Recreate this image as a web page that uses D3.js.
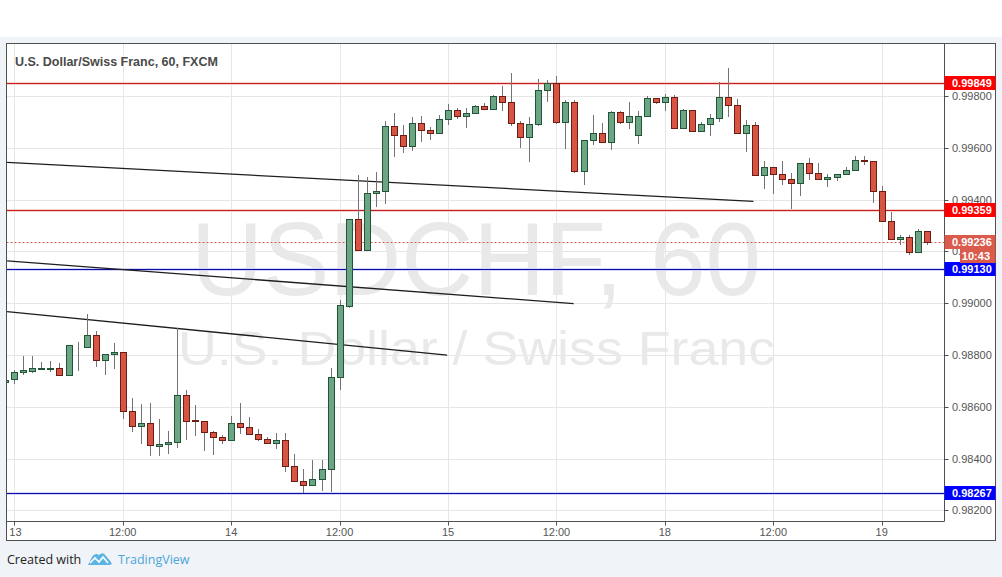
<!DOCTYPE html>
<html><head><meta charset="utf-8">
<script src="https://cdn.jsdelivr.net/npm/d3@7"></script>
<style>html,body{margin:0;padding:0;background:#f0f3f7;}svg{display:block;}</style>
</head><body>
<svg id="c" width="1002" height="577"></svg>
<script>
// ---------- DATA ----------
const title = "U.S. Dollar/Swiss Franc, 60, FXCM";
const watermarkSymbol = "USDCHF, 60";
const watermarkName = "U.S. Dollar / Swiss Franc";
const firstBarIndex = -1;
const opens  = [0.98697,0.98706,0.98733,0.98738,0.98746,0.98746,0.98748,0.98721,0.98836,0.98832,0.98876,0.98779,0.98802,0.98810,0.98583,0.98527,0.98536,0.98449,0.98455,0.98463,0.98644,0.98548,0.98544,0.98502,0.98482,0.98470,0.98537,0.98522,0.98494,0.98474,0.98459,0.98470,0.98371,0.98312,0.98297,0.98320,0.98358,0.98714,0.98990,0.99324,0.99204,0.99425,0.99431,0.99683,0.99648,0.99606,0.99694,0.99667,0.99656,0.99710,0.99744,0.99722,0.99733,0.99760,0.99748,0.99800,0.99775,0.99694,0.99640,0.99690,0.99822,0.99850,0.99700,0.99775,0.99509,0.99629,0.99656,0.99621,0.99737,0.99698,0.99648,0.99721,0.99791,0.99775,0.99796,0.99675,0.99744,0.99663,0.99690,0.99714,0.99796,0.99764,0.99656,0.99687,0.99493,0.99524,0.99497,0.99478,0.99463,0.99540,0.99501,0.99478,0.99486,0.99497,0.99513,0.99553,0.99548,0.99433,0.99316,0.99246,0.99254,0.99196,0.99277];
const highs  = [0.98709,0.98742,0.98796,0.98796,0.98773,0.98776,0.98769,0.98838,0.98849,0.98958,0.98891,0.98803,0.98845,0.98811,0.98633,0.98609,0.98613,0.98553,0.98506,0.98904,0.98665,0.98605,0.98544,0.98506,0.98491,0.98564,0.98613,0.98560,0.98513,0.98484,0.98497,0.98498,0.98416,0.98358,0.98394,0.98394,0.98748,0.99012,0.99325,0.99495,0.99486,0.99507,0.99703,0.99735,0.99687,0.99717,0.99722,0.99679,0.99726,0.99769,0.99752,0.99752,0.99764,0.99771,0.99805,0.99838,0.99888,0.99703,0.99717,0.99865,0.99861,0.99877,0.99784,0.99784,0.99629,0.99726,0.99694,0.99743,0.99742,0.99778,0.99742,0.99800,0.99791,0.99807,0.99804,0.99749,0.99744,0.99698,0.99730,0.99853,0.99908,0.99787,0.99706,0.99698,0.99549,0.99524,0.99548,0.99501,0.99540,0.99560,0.99541,0.99497,0.99497,0.99527,0.99567,0.99567,0.99548,0.99452,0.99351,0.99264,0.99262,0.99285,0.99277];
const lows   = [0.98688,0.98688,0.98721,0.98731,0.98744,0.98734,0.98721,0.98721,0.98739,0.98825,0.98755,0.98721,0.98745,0.98551,0.98504,0.98457,0.98408,0.98411,0.98417,0.98441,0.98472,0.98488,0.98430,0.98414,0.98456,0.98470,0.98496,0.98494,0.98467,0.98459,0.98438,0.98347,0.98312,0.98267,0.98297,0.98276,0.98270,0.98665,0.98980,0.99204,0.99204,0.99372,0.99383,0.99565,0.99581,0.99586,0.99623,0.99630,0.99652,0.99687,0.99710,0.99677,0.99733,0.99746,0.99746,0.99743,0.99684,0.99598,0.99546,0.99683,0.99778,0.99693,0.99594,0.99501,0.99457,0.99612,0.99621,0.99592,0.99690,0.99673,0.99614,0.99721,0.99770,0.99743,0.99675,0.99675,0.99660,0.99663,0.99646,0.99698,0.99717,0.99652,0.99582,0.99493,0.99442,0.99423,0.99457,0.99365,0.99412,0.99474,0.99474,0.99447,0.99470,0.99493,0.99509,0.99532,0.99385,0.99316,0.99246,0.99223,0.99185,0.99196,0.99224];
const closes = [0.98703,0.98733,0.98741,0.98748,0.98750,0.98750,0.98721,0.98837,0.98834,0.98876,0.98779,0.98802,0.98810,0.98583,0.98527,0.98536,0.98451,0.98455,0.98463,0.98644,0.98546,0.98545,0.98502,0.98482,0.98470,0.98537,0.98522,0.98494,0.98474,0.98459,0.98470,0.98371,0.98312,0.98297,0.98320,0.98358,0.98714,0.98991,0.99324,0.99204,0.99425,0.99434,0.99683,0.99648,0.99606,0.99694,0.99667,0.99656,0.99710,0.99744,0.99722,0.99733,0.99760,0.99748,0.99800,0.99775,0.99694,0.99640,0.99690,0.99822,0.99850,0.99700,0.99775,0.99509,0.99629,0.99656,0.99621,0.99737,0.99698,0.99721,0.99721,0.99791,0.99775,0.99796,0.99675,0.99746,0.99663,0.99692,0.99714,0.99796,0.99764,0.99656,0.99687,0.99493,0.99524,0.99497,0.99478,0.99463,0.99540,0.99501,0.99478,0.99486,0.99497,0.99513,0.99551,0.99549,0.99433,0.99316,0.99246,0.99254,0.99196,0.99277,0.99236];
const priceTicks = [0.982,0.984,0.986,0.988,0.990,0.992,0.994,0.996,0.998];
const timeTickIndex  = [0,12,24,36,48,60,72,84,96];
const timeTickLabels = ["13","12:00","14","12:00","15","12:00","18","12:00","19"];
const levelPrices = [0.99849,0.99359,0.99130,0.98267];
const levelKinds  = ["resistance","resistance","support","support"];
const trendStartIndex = [-0.8,-0.8,-0.8];
const trendStartPrice = [0.99543,0.99163,0.98967];
const trendEndIndex   = [81.8,61.9,47.9];
const trendEndPrice   = [0.99393,0.98998,0.98799];
const lastPrice = 0.99236;
const countdown = "10:43";

// ---------- DRAW ----------
const svg = d3.select("#c");
const L = 6.5, T = 43.5, R = 944.5, B = 521.5, OR = 995.5, OB = 540.5;
const x = d3.scaleLinear().domain([0, 96]).range([14.3, 881.7]);
const y = d3.scaleLinear().domain([0.982, 0.998]).range([510.3, 95.9]);
const fmt = d3.format(".5f");
const px = v => Math.round(v) + 0.5;
const FONT = "'Liberation Sans',Arial,sans-serif";

svg.append("rect").attr("x",0).attr("y",0).attr("width",1002).attr("height",37).attr("fill","#ffffff");
svg.append("rect").attr("x",L).attr("y",T).attr("width",OR-L).attr("height",OB-T).attr("fill","#fff");

const clip = svg.append("defs").append("clipPath").attr("id","plot");
clip.append("rect").attr("x",L+0.5).attr("y",T+0.5).attr("width",R-L-1).attr("height",B-T-1);
const plot = svg.append("g").attr("clip-path","url(#plot)");

// grid
plot.append("g").selectAll("line").data(priceTicks).join("line")
  .attr("x1",L).attr("x2",R).attr("y1",d=>px(y(d))).attr("y2",d=>px(y(d)))
  .attr("stroke","#e6e6e6").attr("stroke-width",1);
plot.append("g").selectAll("line").data(timeTickIndex).join("line")
  .attr("y1",T).attr("y2",B).attr("x1",d=>px(x(d))).attr("x2",d=>px(x(d)))
  .attr("stroke","#e6e6e6").attr("stroke-width",1);

// watermark
plot.append("text").attr("x",191).attr("y",295).text(watermarkSymbol)
  .attr("font-family",FONT).attr("font-size",104)
  .attr("textLength",570).attr("lengthAdjust","spacingAndGlyphs").attr("fill","#e9e9e9");
plot.append("text").attr("x",178).attr("y",365).text(watermarkName)
  .attr("font-family",FONT).attr("font-size",49)
  .attr("textLength",597).attr("lengthAdjust","spacingAndGlyphs").attr("fill","#e9e9e9");

// levels (with soft glow)
const levelColor = k => k==="resistance" ? "#c81e1e" : "#0c0ca6";
const levelGlow  = k => k==="resistance" ? "#f7d0d0" : "#d6d6f4";
const lv = plot.append("g");
lv.selectAll("line.glow").data(levelPrices).join("line").attr("class","glow")
  .attr("x1",L).attr("x2",R).attr("y1",d=>px(y(d))).attr("y2",d=>px(y(d)))
  .attr("stroke",(d,i)=>levelGlow(levelKinds[i])).attr("stroke-width",3);
lv.selectAll("line.main").data(levelPrices).join("line").attr("class","main")
  .attr("x1",L).attr("x2",R).attr("y1",d=>px(y(d))).attr("y2",d=>px(y(d)))
  .attr("stroke",(d,i)=>levelColor(levelKinds[i])).attr("stroke-width",1);

// current price dotted
plot.append("line").attr("x1",L).attr("x2",R).attr("y1",px(y(lastPrice))).attr("y2",px(y(lastPrice)))
  .attr("stroke","#d0604f").attr("stroke-dasharray","2,2").attr("stroke-width",1);

// trend lines
plot.append("g").selectAll("line").data(trendStartIndex).join("line")
  .attr("x1",(d,i)=>x(trendStartIndex[i])).attr("y1",(d,i)=>y(trendStartPrice[i]))
  .attr("x2",(d,i)=>x(trendEndIndex[i])).attr("y2",(d,i)=>y(trendEndPrice[i]))
  .attr("stroke","#1e1e1e").attr("stroke-width",1.3);

// candles
const bars = opens.map((o,k)=>({i:firstBarIndex+k,o,h:highs[k],l:lows[k],c:closes[k]}));
const cg = plot.append("g");
const bg = cg.selectAll("g").data(bars).join("g");
bg.append("line")
  .attr("x1",d=>px(x(d.i))).attr("x2",d=>px(x(d.i)))
  .attr("y1",d=>Math.round(y(d.h))).attr("y2",d=>Math.round(y(d.l)))
  .attr("stroke","#737375").attr("stroke-width",1);
bg.append("rect")
  .attr("x",d=>Math.round(x(d.i))-2.5)
  .attr("width",6)
  .attr("y",d=>Math.round(y(Math.max(d.o,d.c)))+0.5)
  .attr("height",d=>Math.max(0, Math.round(y(Math.min(d.o,d.c)))-Math.round(y(Math.max(d.o,d.c)))))
  .attr("fill",d=>d.c>=d.o?"#6ba583":"#d75442")
  .attr("stroke",d=>d.c>=d.o?"#225437":"#6b1c14").attr("stroke-width",1);

// frame
svg.append("rect").attr("x",L).attr("y",T).attr("width",OR-L).attr("height",OB-T)
  .attr("fill","none").attr("stroke","#505050").attr("stroke-width",1);
svg.append("line").attr("x1",R).attr("x2",R).attr("y1",T).attr("y2",B).attr("stroke","#505050");
svg.append("line").attr("x1",L).attr("x2",R).attr("y1",B).attr("y2",B).attr("stroke","#505050");

// price axis
const pa = svg.append("g");
pa.selectAll("line").data(priceTicks).join("line")
  .attr("x1",R).attr("x2",R+4).attr("y1",d=>px(y(d))).attr("y2",d=>px(y(d))).attr("stroke","#505050");
pa.selectAll("text").data(priceTicks).join("text")
  .attr("x",952).attr("y",d=>y(d)+4).text(d=>fmt(d))
  .attr("font-family",FONT).attr("font-size",11).attr("fill","#555");

// time axis
const ta = svg.append("g");
ta.selectAll("line").data(timeTickIndex).join("line")
  .attr("x1",d=>px(x(d))).attr("x2",d=>px(x(d))).attr("y1",B).attr("y2",B+4).attr("stroke","#505050");
ta.selectAll("text").data(timeTickIndex).join("text")
  .attr("x",(d)=>x(d)).attr("y",536).attr("text-anchor",(d,i)=>i===0?"start":"middle")
  .attr("dx",(d,i)=>i===0?-5:0)
  .text((d,i)=>timeTickLabels[i])
  .attr("font-family",FONT).attr("font-size",11).attr("fill","#555");

// level labels
const labelBg = k => k==="resistance" ? "#ff0000" : "#0000ff";
const lg = svg.append("g").selectAll("g").data(levelPrices).join("g");
lg.append("rect").attr("x",R).attr("y",d=>Math.round(y(d))-7).attr("width",OR-R).attr("height",14)
  .attr("fill",(d,i)=>labelBg(levelKinds[i]));
lg.append("text").attr("x",952).attr("y",d=>Math.round(y(d))+4).text(d=>fmt(d))
  .attr("font-family",FONT).attr("font-size",11).attr("font-weight","bold").attr("fill","#fff");

// last price label + countdown
const ly = Math.round(y(lastPrice));
svg.append("rect").attr("x",R).attr("y",ly-7).attr("width",OR-R).attr("height",14).attr("fill","#da5b4c");
svg.append("text").attr("x",952).attr("y",ly+4).text(fmt(lastPrice))
  .attr("font-family",FONT).attr("font-size",11).attr("font-weight","bold").attr("fill","#fff");
svg.append("rect").attr("x",960).attr("y",ly+7).attr("width",OR-960).attr("height",14).attr("fill","#da5b4c");
svg.append("text").attr("x",990).attr("y",ly+18).attr("text-anchor","end").text(countdown)
  .attr("font-family",FONT).attr("font-size",11).attr("font-weight","bold").attr("fill","#fff");

// title
svg.append("text").attr("x",15).attr("y",66).text(title)
  .attr("font-family",FONT).attr("font-size",12.5).attr("font-weight","bold").attr("fill","#4a4a4a");

// footer
svg.append("text").attr("x",7).attr("y",564).text("Created with")
  .attr("font-family","'Open Sans',sans-serif").attr("font-size",12.5).attr("fill","#222");
const logo = svg.append("g").attr("transform","translate(88,552)");
logo.append("path").attr("d","M0,13 L4,5 Q7,0 11,3 Q15,-1 18,4 L23,10 Q25,13 21,13 Z").attr("fill","#5db3e3");
logo.append("path").attr("d","M2,11 L7,6 L11,10 L15,5 L20,11").attr("fill","none").attr("stroke","#fff").attr("stroke-width",1.6);
svg.append("text").attr("x",118).attr("y",564).text("TradingView")
  .attr("font-family","'Open Sans',sans-serif").attr("font-size",12.5).attr("fill","#4ba6db");
</script>
</body></html>
